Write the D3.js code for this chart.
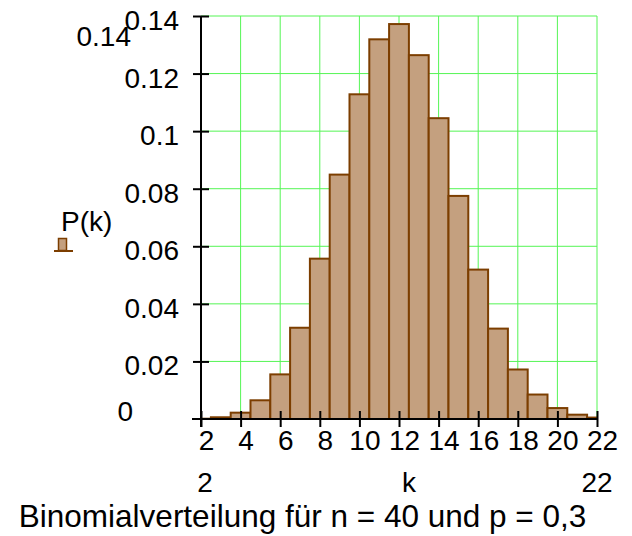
<!DOCTYPE html>
<html>
<head>
<meta charset="utf-8">
<script src="https://cdn.jsdelivr.net/npm/d3@7"></script>
<style>
  body { margin: 0; background: #fff; }
  text { font-family: "Liberation Sans", Arial, sans-serif; fill: #000; }
</style>
</head>
<body>
<svg width="632" height="536"></svg>
<script>
const svg = d3.select('svg');

// data
const ks = [2, 3, 4, 5, 6, 7, 8, 9, 10, 11, 12, 13, 14, 15, 16, 17, 18, 19, 20, 21, 22];
const probs = [0.0001, 0.0006, 0.0022, 0.0065, 0.0155, 0.0317, 0.0557, 0.0849, 0.1128, 0.1319,
               0.1372, 0.1264, 0.1045, 0.0775, 0.0519, 0.0314, 0.0172, 0.0085, 0.0038, 0.0015, 0.0005];
const xTicks = [2, 4, 6, 8, 10, 12, 14, 16, 18, 20, 22];
const yTicks = [0.02, 0.04, 0.06, 0.08, 0.1, 0.12, 0.14];
const xMin = 2, xMax = 22, yMin = 0, yMax = 0.14;
const title = 'Binomialverteilung für n = 40 und p = 0,3';

const x = d3.scaleLinear().domain([xMin, xMax]).range([201, 597]);
const y = d3.scaleLinear().domain([yMin, yMax]).range([419, 16]);

const fs = 28;
const grid = '#55f555';

// grid
svg.append('g').selectAll('line').data(xTicks.slice(1))
    .enter().append('line')
    .attr('x1', d => x(d)).attr('x2', d => x(d))
    .attr('y1', y(yMin)).attr('y2', y(yMax))
    .attr('stroke', grid).attr('stroke-width', 1);
svg.append('g').selectAll('line').data(yTicks)
    .enter().append('line')
    .attr('x1', x(xMin)).attr('x2', x(xMax))
    .attr('y1', d => y(d)).attr('y2', d => y(d))
    .attr('stroke', grid).attr('stroke-width', 1);

// bars, centred on k and clipped to the x range
svg.append('clipPath').attr('id', 'plotclip')
    .append('rect')
    .attr('x', x(xMin)).attr('y', 0)
    .attr('width', x(xMax) - x(xMin) + 1).attr('height', y(yMin) + 1);

svg.append('g').attr('clip-path', 'url(#plotclip)')
    .selectAll('rect').data(ks)
    .enter().append('rect')
    .attr('x', d => x(d - 0.5))
    .attr('width', d => x(d + 0.5) - x(d - 0.5))
    .attr('y', (d, i) => y(probs[i]))
    .attr('height', (d, i) => y(0) - y(probs[i]))
    .attr('fill', '#c4a07f')
    .attr('stroke', '#7c3e00')
    .attr('stroke-width', 2);

// axes
const yAxis = svg.append('g')
    .attr('transform', `translate(${x(xMin)},0)`)
    .call(d3.axisLeft(y).tickValues(yTicks).tickSize(8).tickPadding(14)
        .tickFormat(d => String(+d.toFixed(2))));
yAxis.select('.domain').remove();
yAxis.selectAll('.tick line').attr('x2', -8).attr('x1', 8).attr('stroke', '#000').attr('stroke-width', 2);
yAxis.selectAll('.tick text')
    .attr('font-size', fs).attr('font-family', null).attr('dy', '0.48em');

const xAxis = svg.append('g')
    .attr('transform', `translate(0,${y(yMin)})`)
    .call(d3.axisBottom(x).tickValues(xTicks).tickSize(8).tickPadding(3));
xAxis.select('.domain').remove();
xAxis.selectAll('.tick line').attr('y1', -8).attr('y2', 8).attr('stroke', '#000').attr('stroke-width', 2);
xAxis.selectAll('.tick text')
    .attr('font-size', fs).attr('font-family', null).attr('dx', 5);

// axis lines
svg.append('line')
    .attr('x1', x(xMin)).attr('x2', x(xMin))
    .attr('y1', y(yMax)).attr('y2', y(yMin) + 8)
    .attr('stroke', '#000').attr('stroke-width', 2);
svg.append('line')
    .attr('x1', x(xMin) - 9).attr('x2', x(xMax))
    .attr('y1', y(yMin)).attr('y2', y(yMin))
    .attr('stroke', '#000').attr('stroke-width', 2);

// limit labels
svg.append('text').attr('x', 131).attr('y', 46).attr('text-anchor', 'end')
    .attr('font-size', fs).text(String(yMax));
svg.append('text').attr('x', 133).attr('y', 421).attr('text-anchor', 'end')
    .attr('font-size', fs).text(String(yMin));
svg.append('text').attr('x', x(xMin) + 4).attr('y', 492).attr('text-anchor', 'middle')
    .attr('font-size', fs).text(String(xMin));
svg.append('text').attr('x', x(xMax)).attr('y', 492).attr('text-anchor', 'middle')
    .attr('font-size', fs).text(String(xMax));
svg.append('text').attr('x', 409).attr('y', 492).attr('text-anchor', 'middle')
    .attr('font-size', fs).text('k');

// y label with legend swatch
svg.append('text').attr('x', 61).attr('y', 231)
    .attr('font-size', fs).text('P(k)');
svg.append('rect').attr('x', 58.5).attr('y', 238.5).attr('width', 8).attr('height', 12)
    .attr('fill', '#c4a07f').attr('stroke', '#7c3e00').attr('stroke-width', 1.5);
svg.append('line').attr('x1', 54).attr('x2', 73).attr('y1', 251).attr('y2', 251)
    .attr('stroke', '#7c3e00').attr('stroke-width', 2);

// title
svg.append('text').attr('x', 302.5).attr('y', 527).attr('text-anchor', 'middle')
    .attr('font-size', 31.5).text(title);
</script>
</body>
</html>
